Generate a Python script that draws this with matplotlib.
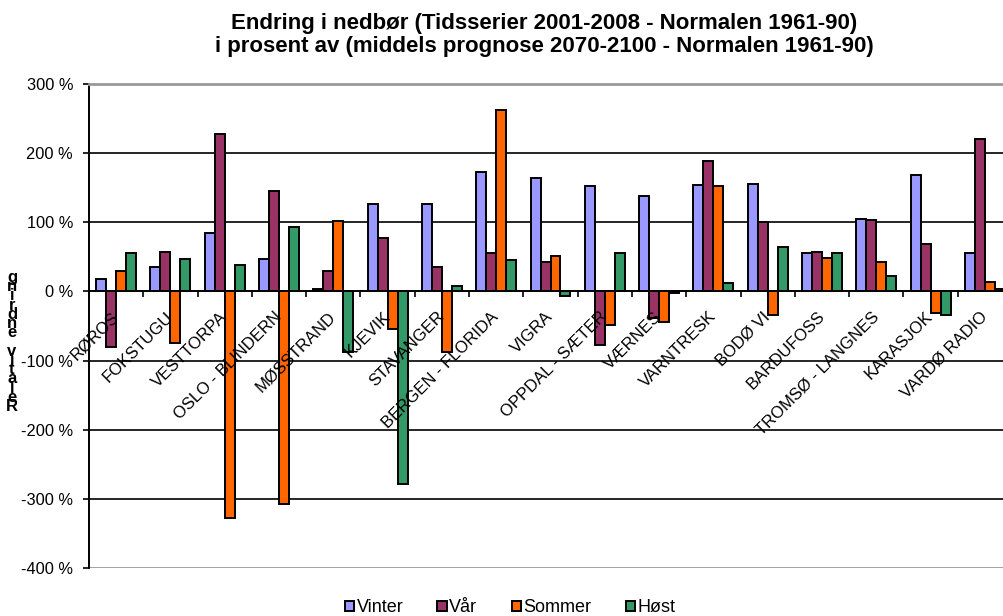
import numpy as np
import matplotlib
matplotlib.use('Agg')
import matplotlib.pyplot as plt
from matplotlib.patches import Patch

plt.rcParams['font.family'] = ['Liberation Sans', 'DejaVu Sans']

stations = ['RØROS', 'FOKSTUGU', 'VESTTORPA', 'OSLO - BLINDERN', 'MØSSTRAND',
            'KJEVIK', 'STAVANGER', 'BERGEN - FLORIDA', 'VIGRA', 'OPPDAL - SÆTER',
            'VÆRNES', 'VARNTRESK', 'BODØ VI', 'BARDUFOSS', 'TROMSØ - LANGNES',
            'KARASJOK', 'VARDØ RADIO']

vinter = [18, 35, 84, 47, 3, 126, 126, 173, 164, 153, 138, 154, 156, 56, 105, 168, 56]
vaar = [-80, 57, 227, 145, 30, 77, 35, 56, 42, -78, -38, 189, 100, 57, 103, 69, 220]
sommer = [30, -75, -327, -307, 102, -54, -87, 263, 51, -49, -44, 152, -34, 48, 42, -31, 14]
host = [56, 47, 38, 93, -87, -278, 8, 46, -6, 56, -2, 12, 64, 55, 23, -34, 4]

series = [('Vinter', vinter, '#9999FF'),
          ('Vår', vaar, '#993366'),
          ('Sommer', sommer, '#FF6600'),
          ('Høst', host, '#339966')]

yticks = [300, 200, 100, 0, -100, -200, -300, -400]

fig = plt.figure(figsize=(10.04, 6.16), dpi=100)
ax = fig.add_axes([89 / 1004, 48 / 616, 923 / 1004, 484 / 616])

x = np.arange(len(stations))
w = 0.184
for k, (name, vals, col) in enumerate(series):
    ax.bar(x + (k - 1.5) * w, vals, width=w, color=col, edgecolor='black',
           linewidth=1.4, zorder=3)

ax.set_xlim(-0.5, len(stations) - 0.5)
ax.set_ylim(-400, 300)

# gridlines + grey plot area border
for v in yticks[1:-1]:
    if v != 0:
        ax.axhline(v, color='black', linewidth=1.2, zorder=1)
ax.axhline(-400, color='#999999', linewidth=2, zorder=1)
ax.spines['top'].set_color('#999999')
ax.spines['top'].set_linewidth(2)
ax.spines['right'].set_visible(False)
ax.spines['left'].set_linewidth(1.4)
ax.spines['bottom'].set_position(('data', 0))
ax.spines['bottom'].set_linewidth(1.4)
ax.spines['bottom'].set_zorder(4)

ax.set_yticks(yticks)
ax.set_yticklabels([f'{v} %' for v in yticks], fontsize=11.8)
ax.tick_params(axis='y', direction='out', length=4.5, width=1.2, pad=7)

ax.set_xticks(np.arange(len(stations) + 1) - 0.5)
ax.set_xticklabels([])
ax.tick_params(axis='x', direction='out', length=4, width=1.2)

for i, s in enumerate(stations):
    ax.text(i, -33, s, rotation=45, rotation_mode='anchor', ha='right',
            va='center', fontsize=12, zorder=5)

# stacked y label, as in the original
ylab = '\n'.join(reversed('Relativ endring'))
fig.text(12 / 1004, 1 - 342 / 616, ylab, fontsize=12, fontweight='bold',
         ha='center', va='center', linespacing=0.52)

fig.text(544 / 1004, 1 - 35 / 616,
         'Endring i nedbør (Tidsserier 2001-2008 - Normalen 1961-90)\n'
         'i prosent av (middels prognose 2070-2100 - Normalen 1961-90)',
         ha='center', va='center', fontsize=16, fontweight='bold',
         linespacing=1.15)

handles = [Patch(facecolor=c, edgecolor='black', linewidth=1.4, label=n)
           for n, _, c in series]
fig.legend(handles=handles, loc='center', bbox_to_anchor=(510 / 1004, 8 / 616),
           ncol=4, frameon=False, fontsize=13, handlelength=0.5,
           handleheight=0.5, handletextpad=0.15, columnspacing=1.9)

fig.savefig('out.png', dpi=100)
